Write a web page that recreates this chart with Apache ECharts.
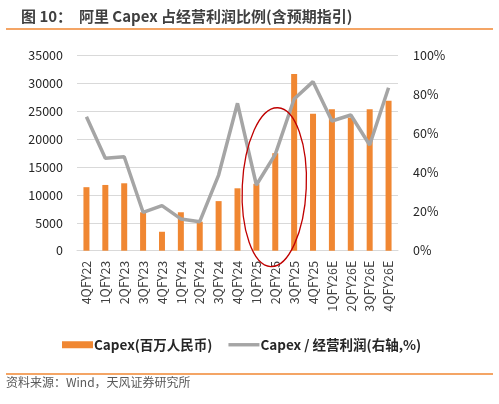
<!DOCTYPE html>
<html>
<head>
<meta charset="utf-8">
<script src="https://cdn.jsdelivr.net/npm/echarts@6.0.0/dist/echarts.min.js"></script>
<style>
html,body{margin:0;padding:0;background:#fff;}
#main{width:499px;height:404px;}
</style>
</head>
<body>
<div id="main"></div>
<script>
var categories = ['4QFY22','1QFY23','2QFY23','3QFY23','4QFY23','1QFY24','2QFY24','3QFY24','4QFY24','1QFY25','2QFY25','3QFY25','4QFY25','1QFY26E','2QFY26E','3QFY26E','4QFY26E'];
var capex = [11400, 11800, 12100, 6900, 3400, 6900, 5200, 8900, 11200, 12000, 17500, 31700, 24600, 25400, 23900, 25400, 26900];
var ratio = [0.687, 0.474, 0.482, 0.197, 0.231, 0.163, 0.149, 0.388, 0.756, 0.337, 0.494, 0.778, 0.867, 0.665, 0.696, 0.542, 0.836];
var leftTicks = {min: 0, max: 35000, interval: 5000};
var rightTicks = {min: 0, max: 1, interval: 0.2};
var titleText = '图 10：  阿里 Capex 占经营利润比例(含预期指引)';
var sourceText = '资料来源：Wind，天风证券研究所';
var barName = 'Capex(百万人民币)';
var lineName = 'Capex / 经营利润(右轴,%)';
var highlightCategory = '2QFY25';

var font = '"Noto Sans CJK SC", "Noto Sans", sans-serif';
var chart = echarts.init(document.getElementById('main'));
var staticGraphics = [
  {type: 'line', shape: {x1: 6, y1: 29, x2: 493, y2: 29}, style: {stroke: '#F08732', lineWidth: 1.5}},
  {type: 'line', shape: {x1: 6, y1: 374, x2: 493, y2: 374}, style: {stroke: '#F08732', lineWidth: 1.5}},
  {type: 'text', left: 6, top: 376, style: {text: sourceText, fontSize: 12, fill: '#595959', fontFamily: font}}
];
var option = {
  animation: false,
  backgroundColor: '#fff',
  textStyle: {fontFamily: font},
  title: {
    text: titleText,
    left: 16, top: 4,
    textStyle: {fontSize: 15, fontWeight: 'bold', color: '#3f3f3f', fontFamily: font}
  },
  legend: {
    left: 57, top: 333,
    itemWidth: 31, itemHeight: 7, itemGap: 16,
    textStyle: {fontSize: 13.5, fontWeight: 'bold', color: '#262626', fontFamily: font, padding: [0,0,0,-4]},
    data: [
      {name: barName, icon: 'rect'},
      {name: lineName, icon: 'path://M0 0H100V11H0Z'}
    ]
  },
  grid: {left: 77, right: 101, top: 55.7, bottom: 153.3, containLabel: false},
  xAxis: {
    type: 'category',
    data: categories,
    boundaryGap: true,
    axisLine: {lineStyle: {color: '#d9d9d9', width: 1}},
    axisTick: {show: false},
    axisLabel: {rotate: 90, fontSize: 12.5, color: '#404040', margin: 10, interval: 0, fontFamily: font}
  },
  yAxis: [
    {
      type: 'value', min: leftTicks.min, max: leftTicks.max, interval: leftTicks.interval,
      axisLine: {show: false}, axisTick: {show: false},
      splitLine: {lineStyle: {color: '#d9d9d9', width: 1}},
      axisLabel: {fontSize: 12.5, color: '#262626', margin: 14, fontFamily: font,
        formatter: function (v) { return String(v); }}
    },
    {
      type: 'value', min: rightTicks.min, max: rightTicks.max, interval: rightTicks.interval,
      axisLine: {show: false}, axisTick: {show: false}, splitLine: {show: false},
      axisLabel: {fontSize: 12.5, color: '#262626', margin: 15, fontFamily: font,
        formatter: function (v) { return Math.round(v * 100) + '%'; }}
    }
  ],
  series: [
    {
      name: barName, type: 'bar', data: capex, yAxisIndex: 0,
      barWidth: 6,
      itemStyle: {color: '#F08732'}
    },
    {
      name: lineName, type: 'line', data: ratio, yAxisIndex: 1,
      symbol: 'none',
      lineStyle: {color: '#A5A5A5', width: 3.5},
      itemStyle: {color: '#A5A5A5'}
    }
  ],
  graphic: staticGraphics
};
chart.setOption(option);

// annotation ellipse around the highlighted quarter
var c = chart.convertToPixel({xAxisIndex: 0, yAxisIndex: 0}, [highlightCategory, 11400]);
chart.setOption({
  graphic: staticGraphics.concat([
    {type: 'ellipse', x: c[0] - 1, y: c[1], rotation: -0.045, z: 100,
     shape: {cx: 0, cy: 0, rx: 32, ry: 79.5},
     style: {fill: 'none', stroke: '#C00000', lineWidth: 1.3}}
  ])
});
</script>
</body>
</html>
